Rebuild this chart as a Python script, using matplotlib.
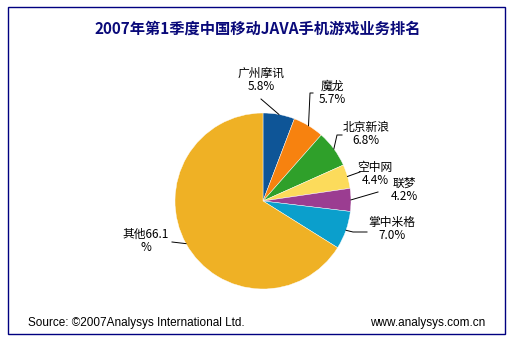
import numpy as np
import matplotlib.pyplot as plt
from matplotlib.patches import Rectangle

plt.rcParams['font.family'] = ['Noto Sans CJK SC', 'DejaVu Sans']

names = ['广州摩讯', '魔龙', '北京新浪', '空中网', '联梦', '掌中米格', '其他']
shares = [5.8, 5.7, 6.8, 4.4, 4.2, 7.0, 66.1]
colors = ['#0E5597', '#F7820F', '#2FA02A', '#FCDB5B', '#9B3D91', '#0B9FCC', '#EFB125']
labels = ['广州摩讯\n5.8%', '魔龙\n5.7%', '北京新浪\n6.8%', '空中网\n4.4%',
          '联梦\n4.2%', '掌中米格\n7.0%', '其他66.1\n%']

W, H = 520, 355
# layout in pixel coords (y down)
cx, cy, r = 263, 201, 88
label_pos = [(261, 80), (332, 93), (366, 134), (375, 174), (404, 190), (392, 229), (146, 241)]
line_pts = [[(261, 99)], [(313, 93), (310, 93)], [(342, 135), (337, 135)],
            [(360, 172)], [(378, 192)], [(367, 232), (353, 232)], [(172, 242)]]


def py(y):
    return H - y


fig = plt.figure(figsize=(W / 100, H / 100), dpi=100)
ax = fig.add_axes([0, 0, 1, 1])
wedges, _ = ax.pie(shares, colors=colors, startangle=90, counterclock=False,
                   center=(cx, py(cy)), radius=r,
                   wedgeprops=dict(edgecolor='white', linewidth=0.3))
ax.set_xlim(0, W)
ax.set_ylim(0, H)
ax.set_aspect('auto')
ax.axis('off')

# frame
ax.add_patch(Rectangle((8, py(334)), 497, 327, fill=False, edgecolor='#000080', lw=1.0))

ax.text(258, py(29), '2007年第1季度中国移动JAVA手机游戏业务排名', ha='center', va='center',
        fontsize=11, fontweight='bold', color='#0A0A7A')

cum = np.cumsum([0] + shares[:-1])
for i, w in enumerate(wedges):
    mid = np.deg2rad((cum[i] + shares[i] / 2) / 100 * 360)
    ex = cx + r * np.sin(mid)
    ey = cy - r * np.cos(mid)
    pts = line_pts[i] + [(ex, ey)]
    ax.plot([p[0] for p in pts], [py(p[1]) for p in pts], color='black', lw=0.7)
    lx, ly = label_pos[i]
    ax.text(lx, py(ly), labels[i], ha='center', va='center', fontsize=8.5,
            linespacing=1.05, multialignment='center')

ax.text(28, py(323), 'Source: ©2007Analysys International Ltd.', ha='left', va='center',
        fontsize=8.5, family=['Liberation Sans', 'DejaVu Sans'])
ax.text(485, py(323), 'www.analysys.com.cn', ha='right', va='center',
        fontsize=8.5, family=['Liberation Sans', 'DejaVu Sans'])

fig.savefig('out.png', dpi=100)
